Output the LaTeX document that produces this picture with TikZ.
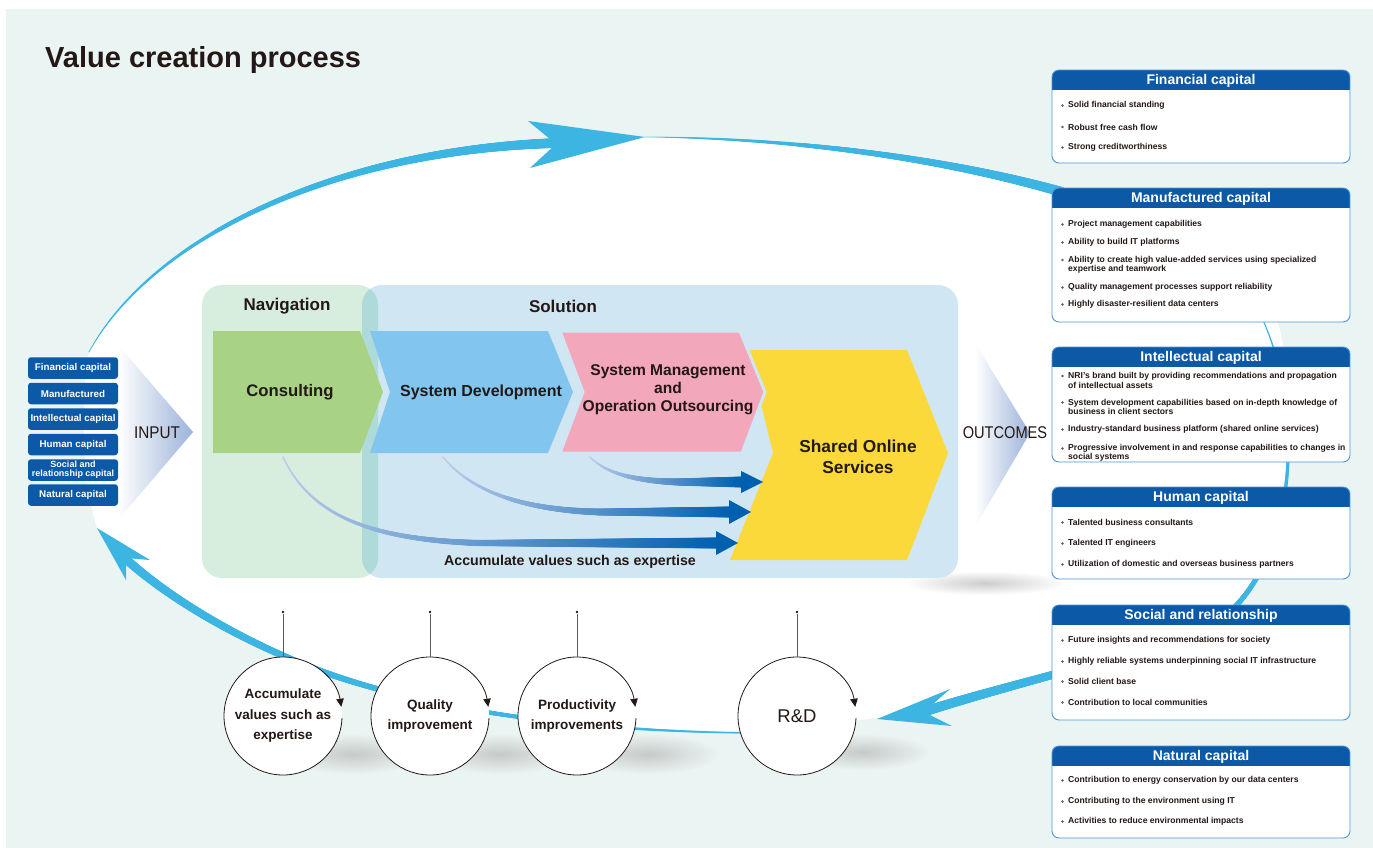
\documentclass[tikz,border=0pt]{standalone}
\usepackage{fontspec}
\setmainfont{Liberation Sans}
\usetikzlibrary{decorations.markings,fadings,arrows.meta,calc}
\definecolor{mint}{HTML}{EAF4F2}
\definecolor{cyc}{HTML}{3DB5E2}
\definecolor{boxblue}{HTML}{0B59A7}
\definecolor{bordc}{HTML}{4D95D6}
\definecolor{ink}{HTML}{231815}
\definecolor{navg}{HTML}{D7EEDF}
\definecolor{solb}{HTML}{D0E7F3}
\definecolor{ovl}{HTML}{AEDAD9}
\definecolor{cgreen}{HTML}{A8D384}
\definecolor{clblue}{HTML}{82C5EE}
\definecolor{cpink}{HTML}{F2A7BA}
\definecolor{cyel}{HTML}{FCD93B}
\definecolor{arrl}{HTML}{BFCDEC}
\definecolor{arrd}{HTML}{0060B0}
\definecolor{gradg}{HTML}{9CB3D9}
\tikzfading[name=shfade, inner color=transparent!30, outer color=transparent!100]
\tikzset{
 taper/.style n args={3}{decoration={markings, mark=between positions 0 and 1 step 0.6pt with {%
   \pgfmathsetmacro\tapf{\pgfkeysvalueof{/pgf/decoration/mark info/distance from start}/\pgfdecoratedpathlength}%
   \pgfmathsetmacro\tapr{#1+(#2-#1)*\tapf}%
   \fill[#3] (0,0) circle[radius=\tapr pt];}}, decorate},
 taperg/.style n args={4}{decoration={markings, mark=between positions 0 and 1 step 0.6pt with {%
   \pgfmathsetmacro\tapf{\pgfkeysvalueof{/pgf/decoration/mark info/distance from start}/\pgfdecoratedpathlength}%
   \pgfmathsetmacro\tapr{#1+(#2-#1)*\tapf}%
   \pgfmathtruncatemacro\tapp{100*(\tapf)^1.0}%
   \fill[#4!\tapp!#3] (0,0) circle[radius=\tapr pt];}}, decorate},
 inbox/.style={fill=boxblue, rounded corners=3pt, minimum width=90pt, minimum height=21.5pt, inner sep=0pt, text=white, font=\fontsize{9.8}{10}\selectfont\bfseries, align=center},
 htitle/.style={text=white, font=\fontsize{14}{14}\selectfont\bfseries, inner sep=0pt},
 itm/.style={anchor=west, align=left, inner sep=0pt, text=ink, font=\fontsize{8.6}{9.2}\selectfont\bfseries},
 bul/.style={circle, fill=ink!70, minimum size=2.9pt, inner sep=0pt},
 lab/.style={text=ink, inner sep=0pt, align=center},
 circ/.style={circle, fill=white, minimum size=118pt, inner sep=0pt, align=center, text=ink, font=\fontsize{13.5}{20.5}\selectfont\bfseries},
 dotn/.style={circle, fill=ink, minimum size=2.6pt, inner sep=0pt},
 vline/.style={draw=black!65, line width=0.5pt},
 cline/.style={draw=ink, line width=0.8pt, -{Triangle[length=8pt,width=7.5pt]}},
 shad/.style={fill=black!28, path fading=shfade},
}
\newcommand\capbox[4]{%
 \fill[white, rounded corners=7pt] (1052,#2) rectangle (1350,#3);
 \begin{scope}
 \clip[rounded corners=7pt] (1052,#2) rectangle (1350,#3);
 \fill[boxblue] (1052,#2) rectangle (1350,#2+20);
 \end{scope}
 \draw[bordc, line width=0.9pt, rounded corners=7pt] (1052,#2) rectangle (1350,#3);
 \node[htitle] (#1) at (1201,#2+10.5) {#4};}
\newcommand\capitem[4]{\node[bul] (#1b) at (1062.5,#2) {}; \node[itm] (#1) at (1068,#3) {#4};}
\begin{document}
\begin{tikzpicture}[x=1pt,y=-1pt]
\useasboundingbox (0,0) rectangle (1373,848);
\fill[white] (0,0) rectangle (1373,848);
\fill[mint] (6,9) rectangle (1373,848);
% white interior of the cycle
\fill[white] (89,352) .. controls (150,240) and (330,150) .. (645,137) .. controls (800,138) and (950,160) .. (1060,192) .. controls (1200,225) and (1275,285) .. (1282,340) .. controls (1295,420) and (1292,530) .. (1240,606) .. controls (1180,650) and (1000,700) .. (877,718) -- (760,731) .. controls (600,732) and (420,712) .. (300,663) .. controls (220,630) and (130,570) .. (97,528) .. controls (82,480) and (80,400) .. (89,352) -- cycle;
% title
\node[anchor=base west, text=ink, inner sep=0pt, font=\fontsize{29}{29}\selectfont\bfseries] (title) at (45,68) {Value creation process};
% shadows
\fill[shad] (985,583) ellipse[x radius=80pt, y radius=12pt];
\foreach \cx in {283,430,577} {\fill[shad] (\cx+70,754) ellipse[x radius=72pt, y radius=20pt];}
\fill[shad] (862,752) ellipse[x radius=68pt, y radius=18pt];
% cyan cycle arrows
\path[taper={0.5}{5}{cyc}] (89,352) .. controls (150,240) and (330,150) .. (558,143);
\fill[cyc] (645,137) -- (528,121) -- (556,144) -- (530,168) -- cycle;
\path[taper={0.3}{5}{cyc}] (645,137) .. controls (800,138) and (950,160) .. (1062,192);
\path[taper={0.6}{5}{cyc}] (1262,318) .. controls (1300,400) and (1302,540) .. (1232,610) .. controls (1170,650) and (1040,675) .. (926,711);
\fill[cyc] (877,719) -- (950,689) -- (924,712) -- (952,726) -- cycle;
\path[taper={0.4}{4.5}{cyc}] (800,733) .. controls (600,735) and (420,712) .. (300,663) .. controls (220,630) and (160,590) .. (127,560);
\fill[cyc] (97,528) -- (150,560) -- (126,558) -- (126,580) -- cycle;
% INPUT / OUTCOMES
\shade[left color=white, right color=gradg] (118,345) -- (193,432) -- (118,520) -- cycle;
\node[lab, font=\fontsize{17}{17}\selectfont] (input) at (157,433) {\scalebox{0.9}[1]{INPUT}};
\shade[left color=white, right color=gradg] (975,343) -- (1030,433) -- (975,527) -- cycle;
\node[lab, font=\fontsize{17}{17}\selectfont] (outc) at (1005,433) {\scalebox{0.86}[1]{OUTCOMES}};
% panels
\fill[navg, rounded corners=20pt] (202,285) rectangle (378,578);
\fill[solb, rounded corners=20pt] (362,285) rectangle (958,578);
\begin{scope}
\clip[rounded corners=20pt] (202,285) rectangle (378,578);
\fill[ovl, rounded corners=20pt] (362,285) rectangle (958,578);
\end{scope}
\node[lab, font=\fontsize{17}{17}\selectfont\bfseries] (nav) at (287,306) {Navigation};
\node[lab, font=\fontsize{17}{17}\selectfont\bfseries] (sol) at (563,306) {Solution};
% chevrons
\fill[cgreen] (213,331) -- (360,331) -- (383,392) -- (360,453) -- (213,453) -- cycle;
\fill[clblue] (370,331) -- (548,331) -- (573,392) -- (548,453) -- (370,453) -- (390,392) -- cycle;
\fill[cyel] (748,350) -- (907,350) -- (948,453) -- (907,560) -- (730,560) -- (773,453) -- cycle;
\filldraw[fill=cpink, draw=solb, line width=3pt, line join=miter] (560,331) -- (740,331) -- (765,392) -- (742,453) -- (560,453) -- (583,392) -- cycle;
\node[lab, font=\fontsize{16.7}{18}\selectfont\bfseries] (cons) at (290,392) {Consulting};
\node[lab, font=\fontsize{16}{18}\selectfont\bfseries] (sysdev) at (481,392) {System Development};
\node[lab, font=\fontsize{15.6}{18}\selectfont\bfseries] (sysmgmt) at (668,390) {System Management\\and\\Operation Outsourcing};
\node[lab, font=\fontsize{17.3}{21}\selectfont\bfseries] (shared) at (858,457) {Shared Online\\Services};
% gradient arrows
\path[taperg={0.8}{5.5}{arrl}{arrd}] (283,457) .. controls (310,515) and (370,540) .. (480,543) -- (718,543);
\fill[arrd] (716,531) -- (738,543) -- (716,555) -- cycle;
\path[taperg={0.8}{5.5}{arrl}{arrd}] (443,457) .. controls (470,490) and (520,510) .. (600,512) -- (731,512);
\fill[arrd] (729,500) -- (751,512) -- (729,524) -- cycle;
\path[taperg={0.8}{5.5}{arrl}{arrd}] (590,457) .. controls (605,472) and (630,481) .. (680,482) -- (743,482);
\fill[arrd] (741,471) -- (763,482) -- (741,493) -- cycle;
\node[lab, font=\fontsize{14.2}{16}\selectfont\bfseries] (accum) at (570,562) {Accumulate values such as expertise};
% circles
\node[circ] (c1) at (283,716) {Accumulate\\values such as\\expertise};
\node[circ] (c2) at (430,716) {Quality\\improvement};
\node[circ] (c3) at (577,716) {Productivity\\improvements};
\node[circ, font=\fontsize{18.5}{20}\selectfont] (c4) at (797,716) {R\&D};
\foreach \c in {c1,c2,c3,c4} {\draw[cline] ($(\c.center)+(-2:59pt)$) arc[start angle=-2, end angle=-351, radius=59pt];}
\node[dotn] (d1) at (283,612) {};
\node[dotn] (d2) at (430,612) {};
\node[dotn] (d3) at (577,612) {};
\node[dotn] (d4) at (797,612) {};
\draw[vline] (d1) -- (c1);
\draw[vline] (d2) -- (c2);
\draw[vline] (d3) -- (c3);
\draw[vline] (d4) -- (c4);
% input boxes
\node[inbox] (in1) at (73,368) {Financial capital};
\node[inbox] (in2) at (73,393.5) {Manufactured};
\node[inbox] (in3) at (73,419) {Intellectual capital};
\node[inbox] (in4) at (73,444.5) {Human capital};
\node[inbox, font=\fontsize{9}{9}\selectfont\bfseries] (in5) at (73,470) {Social and\\relationship capital};
\node[inbox] (in6) at (73,495) {Natural capital};
% outcome boxes
\capbox{bfin}{70}{163}{Financial capital}
\capitem{f1}{105.5}{105.5}{Solid financial standing}
\capitem{f2}{127}{127}{Robust free cash flow}
\capitem{f3}{147.5}{147.5}{Strong creditworthiness}
\capbox{bman}{188}{322}{Manufactured capital}
\capitem{m1}{224.5}{224.5}{Project management capabilities}
\capitem{m2}{242.5}{242.5}{Ability to build IT platforms}
\capitem{m3}{260}{264.5}{Ability to create high value-added services using specialized\\expertise and teamwork}
\capitem{m4}{287.5}{287.5}{Quality management processes support reliability}
\capitem{m5}{304.5}{304.5}{Highly disaster-resilient data centers}
\capbox{bint}{347}{462}{Intellectual capital}
\capitem{i1}{376}{380.5}{NRI’s brand built by providing recommendations and propagation\\of intellectual assets}
\capitem{i2}{402.5}{407}{System development capabilities based on in-depth knowledge of\\business in client sectors}
\capitem{i3}{429.5}{429.5}{Industry-standard business platform (shared online services)}
\capitem{i4}{448.5}{453}{Progressive involvement in and response capabilities to changes in\\social systems}
\capbox{bhum}{487}{579}{Human capital}
\capitem{h1}{522.5}{522.5}{Talented business consultants}
\capitem{h2}{543.5}{543.5}{Talented IT engineers}
\capitem{h3}{564.5}{564.5}{Utilization of domestic and overseas business partners}
\capbox{bsoc}{605}{720}{Social and relationship}
\capitem{s1}{640.5}{640.5}{Future insights and recommendations for society}
\capitem{s2}{661.5}{661.5}{Highly reliable systems underpinning social IT infrastructure}
\capitem{s3}{681.5}{681.5}{Solid client base}
\capitem{s4}{702.5}{702.5}{Contribution to local communities}
\capbox{bnat}{746}{838}{Natural capital}
\capitem{n1}{780.5}{780.5}{Contribution to energy conservation by our data centers}
\capitem{n2}{801.5}{801.5}{Contributing to the environment using IT}
\capitem{n3}{821.5}{821.5}{Activities to reduce environmental impacts}
\end{tikzpicture}
\end{document}
